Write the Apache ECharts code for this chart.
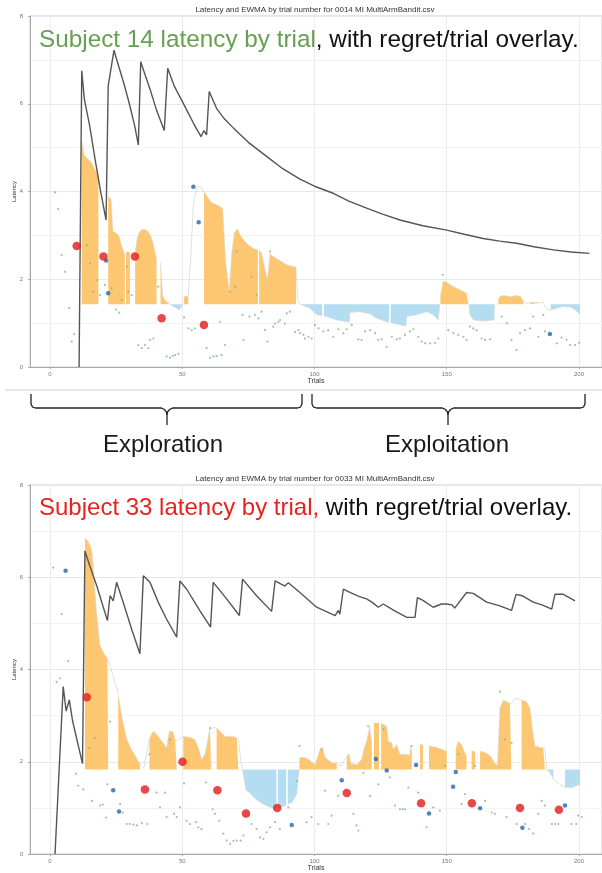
<!DOCTYPE html>
<html>
<head>
<meta charset="utf-8">
<script src="https://cdn.jsdelivr.net/npm/echarts@6/dist/echarts.min.js"></script>
<style>html,body{margin:0;padding:0;background:#fff}#c{width:602px;height:873px}</style>
</head>
<body>
<div id="c"></div>
<script>
// ---------- data ----------
const xTicks = [0, 50, 100, 150, 200];
const yTicks = [0, 2, 4, 6, 8];
const base14 = 1.43;   // regret baseline, subject 14
const base33 = 1.83;   // regret baseline, subject 33

const ewma14 = [[11,0],[12,6.75],[13,6.1],[15,5.5],[17,4.75],[19,4.05],[21.2,3.35],[22,6.4],[24.2,7.22],[26,6.85],[28,6.45],[30,6.0],[32,5.5],[33.4,5.06],[34.3,6.96],[36,6.65],[38,6.3],[40.3,5.85],[43.2,5.39],[44.5,6.81],[47,6.4],[50.4,6.01],[54.2,5.56],[57.1,5.25],[58.2,5.39],[59.2,5.29],[60.2,6.28],[63,5.89],[66,5.65],[69.3,5.45],[75,5.12],[81.9,4.80],[88,4.52],[94.5,4.28],[100,4.12],[107.1,3.96],[113,3.78],[119.7,3.62],[126,3.48],[132.3,3.35],[141,3.22],[150,3.12],[157,3.02],[163.8,2.93],[170,2.87],[176.4,2.82],[183,2.74],[190.3,2.67],[197,2.62],[203.9,2.59]];

const orange14 = [[12,5.15],[12.8,4.85],[14,4.75],[15.5,4.68],[17,4.5],[18.3,4.35],[18.4,null],
[22,3.9],[23.1,3.82],[23.8,3.1],[25,3.05],[26,3.0],[27,2.78],[28.3,2.55],[28.5,null],
[28.7,2.62],[30.2,2.62],[30.5,null],
[32.2,2.6],[33,2.95],[34,3.1],[35,3.14],[36,3.13],[37,3.1],[38,3.0],[39,2.82],[40.3,2.45],[40.6,null],
[41.8,2.4],[42.6,1.62],[43.5,1.52],[45.2,1.45],[45.3,null],
[50.7,1.6],[52.3,1.62],[52.5,null],
[58.2,4.0],[59.5,3.88],[61,3.75],[63,3.7],[65.3,3.62],[66.4,2.4],[67.8,1.72],[68.7,2.59],[69.7,3.05],[70.8,3.15],[72,3.0],[73.5,2.88],[75,2.78],[77,2.7],[78.6,2.66],[78.8,null],
[79.1,2.66],[80,2.6],[81,2.3],[82.2,2.0],[83.2,2.58],[84.4,2.52],[87,2.42],[89.5,2.33],[92,2.29],[93,2.28],[93.2,null],
[147.6,1.6],[148.6,1.95],[149.5,1.95],[152.5,1.83],[155,1.76],[157.5,1.68],[158.2,1.66],[158.3,null],
[169.5,1.55],[170.3,1.62],[172,1.63],[174,1.6],[176,1.63],[178,1.6],[179,1.5],[179.2,null],
[181.5,1.47],[186.4,1.47]];

const blue14 = [[45.3,1.43],[47,1.37],[49,1.3],[50.3,1.43],[50.4,null],
[94.5,1.43],[96,1.4],[98.3,1.34],[100.8,1.19],[102.9,1.16],[103.1,null],
[103.6,1.16],[104.6,1.15],[108.4,1.07],[112.2,1.03],[113.2,1.03],[113.4,1.24],[117.2,1.26],[121,1.21],[123.5,1.11],[127.3,1.03],[128.2,1.02],[128.4,null],
[128.8,1.01],[129.8,1.0],[133.6,0.94],[134.6,0.94],[134.8,1.15],[138.6,1.19],[142.4,1.26],[144.9,1.19],[146.8,1.07],[147.4,1.43],[147.5,null],
[158.4,1.43],[158.8,1.19],[160.1,1.07],[164,1.05],[167.9,1.07],[168.1,1.43],[168.2,null],
[189.3,1.3],[191,1.33],[194,1.38],[197,1.36],[199,1.28],[200.4,1.19]];

const link14 = [[52.3,1.62],[53.3,2.6],[54.2,3.7],[55.5,4.1],[57,4.1],[58.2,4.0],[58.3,null],
[93,2.28],[93.6,1.55],[94.5,1.43],[94.6,null],
[179,1.5],[180,1.45],[181.5,1.47],[181.6,null],
[186.4,1.47],[187.5,1.33],[189.3,1.3]];

const green14 = [[1.9,3.98],[3.1,3.6],[4.4,2.55],[5.7,2.17],[7.3,1.34],[8.2,0.58],[9.1,0.75],[13.9,2.78],[15.1,2.36],[16.4,1.72],[17.6,1.98],[18.9,1.64],[20.8,1.87],[23.3,1.79],[25.0,1.31],[26.2,1.24],[27.1,1.53],[29.0,2.29],[29.6,1.72],[30.9,1.64],[33.4,0.50],[34.7,0.43],[35.9,0.50],[37.2,0.43],[37.8,0.62],[39.1,0.65],[40.9,1.83],[44.1,0.24],[45.4,0.21],[46.4,0.25],[47.3,0.27],[48.5,0.30],[50.7,1.13],[52.3,0.88],[53.6,0.84],[54.8,0.88],
[59.2,0.43],[60.5,0.21],[61.8,0.24],[63.0,0.25],[64.9,0.27],[66.2,0.50],[64.3,1.03],[68.1,1.72],[70.6,2.63],[70.0,1.83],[72.8,1.19],[73.1,0.62],[75.4,1.15],[76.2,2.06],[77.5,1.19],[78.1,1.64],[78.8,1.11],[80.0,1.26],[81.3,0.84],[82.2,0.58],[83.2,2.63],[84.4,0.92],[85.1,0.99],[86.3,1.03],[87.0,1.07],[88.8,0.99],[89.5,1.22],[90.7,1.26],[92.6,0.80],[93.9,0.84],[94.5,0.77],[95.8,0.73],[96.4,0.65],[97.7,0.69],[98.9,0.65],
[100.2,0.96],[101.5,0.88],[103.3,0.81],[105.2,0.84],[107.1,0.69],[109.0,0.86],[110.9,0.77],[112.2,0.86],[114.1,0.96],[116.6,0.63],[117.8,0.62],[119.1,0.81],[121.0,0.84],[122.9,0.77],[124.1,0.62],[125.4,0.63],[127.3,0.46],[129.2,0.69],[131.1,0.63],[132.3,0.65],[134.2,0.73],[136.1,0.81],[137.4,0.86],[139.3,0.69],[140.5,0.58],[141.8,0.54],[143.7,0.54],[145.6,0.55],[146.8,0.65],[148.5,2.10],[150.6,0.84],[152.5,0.77],[154.4,0.73],[156.3,0.69],[157.5,0.62],[158.8,0.92],[160.0,0.88],[161.3,0.84],[163.2,0.65],[164.5,0.62],[166.4,0.63],[170.8,1.15],[172.7,1.00],[174.5,0.62],[176.4,0.39],[177.7,0.77],[179.6,0.84],[181.5,0.88],[182.7,1.15],[184.6,0.69],[186.5,1.19],[187.1,0.81],[191.6,0.54],[193.4,0.67],[195.3,0.62],[196.6,0.50],[198.5,0.50],[200.1,0.55]];
const blueDots14 = [[21.2,2.43],[22.0,1.68],[54.2,4.11],[56.2,3.30],[189.0,0.75]];
const redDots14 = [[10.1,2.76],[20.2,2.52],[32.1,2.52],[42.2,1.11],[58.2,0.96]];

const ewma33 = [[1.9,0],[5.0,3.63],[6.1,3.1],[7.3,3.34],[8.5,2.9],[10.5,2.4],[12.3,1.96],[13.2,6.57],[15.1,6.24],[17.7,5.81],[21.7,5.06],[22.7,5.6],[23.9,5.49],[25.2,5.89],[28,5.4],[31,4.85],[34.0,4.34],[35.3,6.03],[37.8,5.89],[41,5.45],[44,5.1],[47.9,4.70],[49.1,5.92],[51.7,5.74],[56.7,5.27],[60.7,4.92],[61.7,5.89],[66.8,5.53],[71.6,5.17],[72.8,5.96],[78.1,5.6],[83.8,5.26],[85.1,5.92],[88.8,5.81],[90.1,5.88],[94.5,5.67],[100.8,5.35],[107.8,5.17],[109,5.28],[109.6,5.2],[110.9,5.74],[113.4,5.67],[117,5.58],[119.7,5.53],[122,5.45],[124.1,5.35],[126,5.42],[130,5.28],[134.9,5.13],[138,5.13],[138.9,5.56],[141,5.5],[144.9,5.35],[148,5.42],[150,5.42],[152,5.4],[153,5.33],[157.5,5.67],[160,5.65],[165.1,5.46],[170.1,5.38],[174.5,5.28],[176.2,5.63],[178.5,5.6],[182.7,5.46],[186,5.4],[189.7,5.31],[190.9,5.63],[194.1,5.63],[198.5,5.49]];

const orange33 = [[13.2,6.85],[14.4,6.78],[15.6,6.62],[16,6.5],[17.5,5.3],[18.9,4.52],[20.3,4.35],[21.7,4.24],[22,4.22],[22.1,null],
[25.8,3.45],[26.5,3.2],[27.5,2.88],[29,2.5],[30.5,2.3],[32,2.15],[33,2.05],[34,1.95],[34.1,null],
[37.6,2.5],[38.5,2.62],[39.3,2.66],[40.9,2.55],[42.8,2.41],[44.1,2.3],[45.1,2.66],[46.4,2.66],[47.3,2.48],[47.9,2.45],[48,null],
[50.4,2.55],[52.9,2.53],[54.8,2.48],[56.1,2.3],[57.3,2.05],[58.6,2.16],[59.9,2.55],[60.5,2.73],[60.9,2.7],[61,null],
[63,2.73],[64.3,2.66],[66.2,2.55],[69.3,2.55],[70.6,2.52],[71.2,2.5],[71.3,null],
[94.3,2.09],[96.4,2.09],[98.3,2.03],[100.2,1.93],[102.1,2.27],[103,2.31],[104,2.09],[106.5,1.98],[108.4,1.96],[108.5,null],
[112.2,2.12],[113.1,2.17],[113.7,1.96],[116.2,1.94],[117.8,2.05],[118.8,2.3],[119.7,2.44],[120.9,2.77],[121.6,2.4],[121.8,null],
[122.5,2.84],[124.4,2.84],[124.6,null],
[125.2,2.84],[127.3,2.77],[127.9,2.44],[129.2,2.41],[129.8,2.27],[131.1,2.37],[132.3,2.16],[134.2,2.16],[136,2.14],[136.4,2.34],[136.8,2.2],[136.9,null],
[139.9,2.37],[141,2.37],[141.1,null],
[143.3,2.34],[145.6,2.32],[148.1,2.27],[150,2.23],[150.1,null],
[153.4,2.27],[154.3,2.44],[155.6,2.37],[156.9,2.19],[157.5,2.12],[157.6,null],
[159.4,2.23],[160.7,2.23],[160.8,null],
[162.6,2.23],[164.5,2.2],[165.7,2.16],[167,2.09],[168.2,1.96],[169.2,1.92],[170.1,3.16],[171.4,3.34],[172.6,3.3],[173.9,3.27],[174.4,3.25],[174.5,null],
[178.3,3.34],[180.2,3.3],[181.5,3.16],[182.5,2.66],[183.4,2.34],[184.6,2.32],[186.5,2.3],[187.1,2.28]];

const blue33 = [[73,1.75],[74.1,1.38],[75.5,1.33],[76.5,1.26],[77.8,1.19],[80.6,1.08],[83.2,1.01],[85.6,0.98],[85.8,null],
[86.2,0.98],[88,1.03],[89.3,1.05],[89.5,null],
[89.9,1.08],[91.5,1.12],[93.3,1.30],[93.9,1.66],[94.2,1.83],[94.3,null],
[187.8,1.83],[189,1.76],[190.3,1.62],[190.4,null],
[194.7,1.44],[197.5,1.44],[199,1.48],[200.4,1.5]];

const link33 = [[22,4.22],[25.8,3.48],[25.9,null],
[34,1.95],[35.5,1.86],[37.6,2.5],[37.7,null],
[47.9,2.45],[49,2.5],[50.4,2.55],[50.5,null],
[60.9,2.7],[62,2.75],[63,2.73],[63.1,null],
[71.2,2.5],[72.2,2.0],[73,1.75],[73.1,null],
[108.4,1.96],[110,1.9],[112.2,2.12],[112.3,null],
[174.4,3.25],[176,3.38],[178.3,3.34],[178.4,null],
[187.1,2.28],[187.8,1.83],[187.9,null],
[190.3,1.62],[192.5,1.52],[194.7,1.44]];

const green33 = [[1.25,6.21],[4.4,5.2],[6.9,4.18],[3.8,3.81],[2.5,3.73],[9.8,1.74],[10.7,1.48],[12.6,1.40],[15.8,1.15],[17.0,2.52],[14.9,2.30],[18.9,1.05],[19.9,1.07],[21.2,0.79],[22.7,2.87],[21.7,1.51],[26.5,1.08],[27.5,0.90],[29.0,0.65],[30.2,0.65],[31.5,0.64],[32.8,0.62],[34.7,0.67],[36.8,0.65],[37.6,2.16],[40.3,1.33],[41.6,1.01],[43.5,1.33],[44.1,0.80],[45.4,2.48],[46.9,0.87],[47.9,0.80],[49.1,1.01],[50.7,1.53],[51.7,0.72],[52.9,0.65],[55.2,0.69],[56.1,0.58],[57.3,0.54],[59.0,1.55],[60.5,2.73],[61.5,0.97],[62.4,0.87],[64.0,0.72],[65.5,0.44],[66.8,0.29],[68.1,0.22],[69.3,0.28],[70.6,0.29],[72.1,0.29],[73.1,0.40],[75.0,0.83],[76.2,0.65],[78.1,0.54],[79.4,0.36],[80.7,0.33],[81.9,0.47],[83.2,0.58],[85.1,0.69],[86.9,0.54],[90.1,1.01],[94.3,2.34],[93.3,1.58],[97.0,0.69],
[98.9,0.80],[101.4,0.65],[102.7,2.27],[104.0,1.37],[105.2,0.65],[106.5,0.83],[109.0,1.26],[114.7,0.87],[115.9,0.62],[116.6,0.51],[118.5,1.76],[120.3,2.77],[121.0,1.26],[124.1,1.51],[126.0,2.70],[128.5,1.66],[130.4,1.05],[132.3,0.97],[133.3,0.97],[134.2,0.97],[135.5,1.44],[136.7,2.34],[139.2,1.33],[142.4,0.58],[144.9,1.01],[147.4,0.94],[149.3,1.91],[154.4,2.16],[155.6,1.08],[156.9,1.30],[160.7,1.91],[164.5,1.15],[167.0,0.90],[168.2,0.87],[170.1,3.52],[172.0,2.48],[172.6,0.80],[174.5,2.41],[176.4,0.65],[179.6,0.65],[181.1,0.54],[182.7,0.44],[184.6,0.87],[185.9,1.15],[187.1,1.05],[189.7,0.65],[190.9,0.65],[192.2,0.65],[197.2,0.65],[199.0,0.65],[199.7,0.83],[201,0.80]];
const blueDots33 = [[5.9,6.14],[23.9,1.38],[26.1,0.92],[91.4,0.63],[110.3,1.60],[123.2,2.06],[127.3,1.81],[138.4,1.93],[143.3,0.88],[152.4,1.46],[153.4,1.78],[162.6,0.99],[178.6,0.57],[194.7,1.05]];
const redDots33 = [[13.9,3.40],[35.9,1.40],[50.1,2.00],[63.3,1.38],[74.1,0.88],[85.9,1.00],[112.2,1.32],[140.3,1.10],[159.5,1.10],[177.7,1.00],[192.4,0.96]];

// ---------- chart ----------
const FONT = 'Liberation Sans, Arial, sans-serif';
const X_MIN = -7.56, X_MAX = 208.7;
const COL_OR = '#fdc772', COL_BL = '#b5ddf1', COL_EW = '#555555', COL_LINK = '#d8d8d8';
const COL_GREEN = '#86b886', COL_BDOT = '#2468b0', COL_RDOT = '#e41a1c';

function xAxisCfg(gi) {
  return {
    type: 'value', gridIndex: gi, min: X_MIN, max: X_MAX, splitNumber: 5,
    name: 'Trials', nameLocation: 'middle', nameGap: 11, nameMoveOverlap: false,
    nameTextStyle: { fontSize: 7, color: '#333', fontFamily: FONT },
    axisLine: { show: true, onZero: false, lineStyle: { color: '#aaaaaa', width: 1 } },
    axisTick: { show: true, length: 2, lineStyle: { color: '#aaaaaa' } },
    axisLabel: { fontSize: 6, color: '#777', margin: 4, fontFamily: FONT,
      showMinLabel: false, showMaxLabel: false,
      formatter: v => (xTicks.indexOf(Math.round(v * 100) / 100) >= 0 ? String(v) : '') },
    splitLine: { show: true, lineStyle: { color: '#ececec', width: 1 } }
  };
}
function yAxisCfg(gi) {
  return {
    type: 'value', gridIndex: gi, min: yTicks[0], max: yTicks[yTicks.length - 1], interval: 2,
    name: 'Latency', nameLocation: 'middle', nameGap: 13, nameRotate: 90, nameMoveOverlap: false,
    nameTextStyle: { fontSize: 6, color: '#333', fontFamily: FONT },
    axisLine: { show: true, onZero: false, lineStyle: { color: '#aaaaaa', width: 1 } },
    axisTick: { show: true, length: 2, lineStyle: { color: '#aaaaaa' } },
    axisLabel: { fontSize: 6, color: '#777', margin: 7, fontFamily: FONT },
    splitLine: { show: true, lineStyle: { color: '#e8e8e8', width: 1 } },
    minorTick: { show: false, splitNumber: 2 },
    minorSplitLine: { show: true, lineStyle: { color: '#f4f4f4', width: 1 } }
  };
}
function panelSeries(gi, base, orange, blue, link, ewma, green, bdots, rdots) {
  const common = { xAxisIndex: gi, yAxisIndex: gi, animation: false, silent: true };
  return [
    Object.assign({ type: 'line', data: orange, symbol: 'none', connectNulls: false, z: 2,
      lineStyle: { color: COL_LINK, width: 0.6 },
      areaStyle: { color: COL_OR, opacity: 1, origin: base } }, common),
    Object.assign({ type: 'line', data: blue, symbol: 'none', connectNulls: false, z: 2,
      lineStyle: { color: COL_LINK, width: 0.6 },
      areaStyle: { color: COL_BL, opacity: 1, origin: base } }, common),
    Object.assign({ type: 'line', data: link, symbol: 'none', connectNulls: false, z: 3,
      lineStyle: { color: COL_LINK, width: 0.8 } }, common),
    Object.assign({ type: 'scatter', data: green, symbolSize: 2.2, z: 4,
      itemStyle: { color: COL_GREEN } }, common),
    Object.assign({ type: 'line', data: ewma, symbol: 'none', z: 5,
      lineStyle: { color: COL_EW, width: 1.4 } }, common),
    Object.assign({ type: 'scatter', data: bdots, symbolSize: 4.5, z: 6,
      itemStyle: { color: COL_BDOT } }, common),
    Object.assign({ type: 'scatter', data: rdots, symbolSize: 8.5, z: 7,
      itemStyle: { color: COL_RDOT } }, common)
  ];
}

const chart = echarts.init(document.getElementById('c'));
chart.setOption({
  animation: false,
  backgroundColor: '#ffffff',
  grid: [
    { left: 30, top: 16, width: 572, height: 351, show: true, borderColor: '#cccccc', borderWidth: 1 },
    { left: 30, top: 485, width: 572, height: 372, show: true, borderColor: '#cccccc', borderWidth: 1 }
  ],
  xAxis: [xAxisCfg(0), xAxisCfg(1)],
  yAxis: [yAxisCfg(0), yAxisCfg(1)],
  series: [].concat(
    panelSeries(0, base14, orange14, blue14, link14, ewma14, green14, blueDots14, redDots14),
    panelSeries(1, base33, orange33, blue33, link33, ewma33, green33, blueDots33, redDots33)
  ),
  graphic: [
    { type: 'text', x: 315, y: 10, z: 100,
      style: { text: 'Latency and EWMA by trial number for 0014 MI MultiArmBandit.csv', fill: '#333',
        font: '8px ' + FONT, textAlign: 'center', textVerticalAlign: 'middle' } },
    { type: 'text', x: 315, y: 479, z: 100,
      style: { text: 'Latency and EWMA by trial number for 0033 MI MultiArmBandit.csv', fill: '#333',
        font: '8px ' + FONT, textAlign: 'center', textVerticalAlign: 'middle' } },
    { type: 'text', x: 39, y: 40, z: 100,
      style: { text: '{g|Subject 14 latency by trial}{k|, with regret/trial overlay.}',
        textAlign: 'left', textVerticalAlign: 'middle',
        rich: { g: { fill: '#67a050', font: '24.3px ' + FONT }, k: { fill: '#111111', font: '24.3px ' + FONT } } } },
    { type: 'text', x: 39, y: 508, z: 100,
      style: { text: '{r|Subject 33 latency by trial,}{k| with regret/trial overlay.}',
        textAlign: 'left', textVerticalAlign: 'middle',
        rich: { r: { fill: '#e8231f', font: '24px ' + FONT }, k: { fill: '#111111', font: '24px ' + FONT } } } },
    { type: 'line', z: 100, shape: { x1: 5, y1: 390, x2: 602, y2: 390 }, style: { stroke: '#cfcfcf', lineWidth: 1 } },
    { type: 'polyline', z: 100,
      shape: { points: [[31,394],[31,404],[32.5,407],[36,408],[161,408],[164.5,409.5],[166.5,412],[167,415],[167,425]] },
      style: { stroke: '#222', fill: null, lineWidth: 1.3 } },
    { type: 'polyline', z: 100,
      shape: { points: [[167,415],[167.5,412],[169.5,409.5],[173,408],[297,408],[300.5,407],[302,404],[302,394]] },
      style: { stroke: '#222', fill: null, lineWidth: 1.3 } },
    { type: 'polyline', z: 100,
      shape: { points: [[312,394],[312,404],[313.5,407],[317,408],[442,408],[445.5,409.5],[447.5,412],[448,415],[448,425]] },
      style: { stroke: '#222', fill: null, lineWidth: 1.3 } },
    { type: 'polyline', z: 100,
      shape: { points: [[448,415],[448.5,412],[450.5,409.5],[454,408],[580,408],[583.5,407],[585,404],[585,394]] },
      style: { stroke: '#222', fill: null, lineWidth: 1.3 } },
    { type: 'text', x: 163, y: 445, z: 100,
      style: { text: 'Exploration', fill: '#1a1a1a', font: '24px ' + FONT, textAlign: 'center', textVerticalAlign: 'middle' } },
    { type: 'text', x: 447, y: 445, z: 100,
      style: { text: 'Exploitation', fill: '#1a1a1a', font: '24px ' + FONT, textAlign: 'center', textVerticalAlign: 'middle' } }
  ]
});
</script>
</body>
</html>
